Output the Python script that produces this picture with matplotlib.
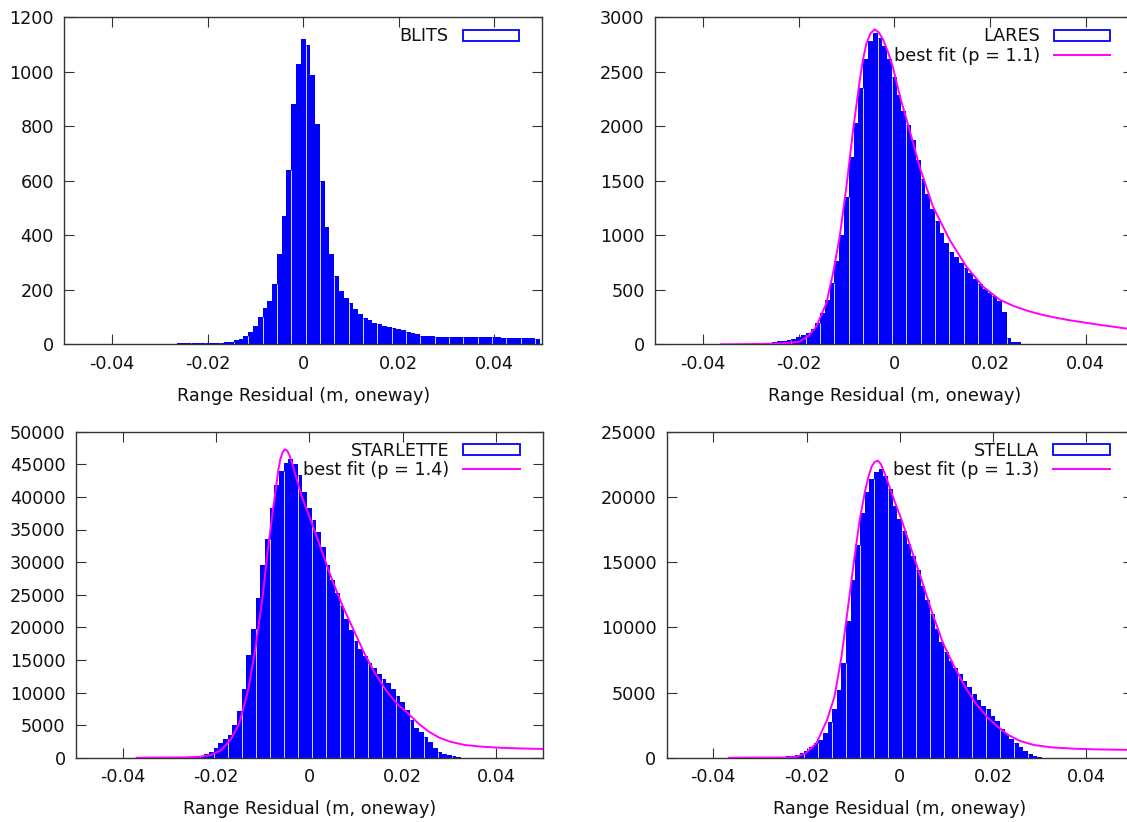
import numpy as np
import matplotlib
matplotlib.use("Agg")
import matplotlib.pyplot as plt
from matplotlib.patches import Patch
from matplotlib.lines import Line2D

plt.rcParams['font.family'] = ['DejaVu Sans']

BIN_WIDTH = 0.001

# ---------------- data ----------------
blits_start = -0.026
blits_counts = [3, 4, 4, 4, 4, 5, 5, 5, 5, 6,
                7, 10, 14, 20, 30, 45, 68, 100, 135, 158,
                220, 330, 470, 640, 880, 1030, 1120, 1100, 990, 810,
                600, 430, 330, 250, 195, 170, 150, 128, 110, 97,
                88, 80, 74, 68, 64, 60, 57, 52, 45, 40,
                36, 32, 30, 29, 28, 28, 28, 27, 27, 27,
                27, 26, 26, 26, 25, 25, 25, 25, 24, 24,
                24, 24, 24, 23, 22, 18]

lares_start = -0.036
lares_counts = [2, 2, 3, 3, 4, 5, 6, 8, 10, 12,
                16, 20, 26, 33, 42, 52, 65, 82, 105, 140,
                200, 290, 410, 560, 760, 1000, 1350, 1720, 2030, 2350,
                2620, 2780, 2860, 2810, 2740, 2620, 2450, 2290, 2140, 2010,
                1870, 1690, 1520, 1380, 1240, 1130, 1020, 930, 850, 800,
                750, 700, 650, 600, 550, 510, 470, 440, 400, 300,
                60, 20, 18]
lares_fit_x = [-0.0362, -0.030, -0.025, -0.022, -0.0198, -0.018, -0.0163, -0.0142,
               -0.0128, -0.0114, -0.0100, -0.0086, -0.0072, -0.0065, -0.0058, -0.0050,
               -0.0041, -0.0032, -0.0023, -0.0013, -0.0003, 0.0012, 0.0032, 0.0053,
               0.0081, 0.0116, 0.0151, 0.0186, 0.022, 0.025, 0.028, 0.031, 0.034,
               0.037, 0.040, 0.043, 0.046, 0.049, 0.0505]
lares_fit_y = [0, 2, 6, 14, 24, 75, 161, 376, 651, 987, 1446, 1966, 2425, 2620, 2761, 2850,
               2890, 2860, 2792, 2680, 2547, 2272, 1966, 1629, 1262, 957, 712, 528, 410, 350,
               305, 270, 242, 218, 198, 178, 160, 142, 135]

starlette_start = -0.035
starlette_counts = [10, 15, 20, 25, 30, 40, 50, 70, 90, 120,
                    160, 220, 330, 500, 900, 1500, 2300, 2800, 3500, 5000,
                    7200, 10500, 15800, 19800, 24500, 29500, 33500, 38300, 41800, 43900,
                    45200, 45800, 45000, 43300, 40700, 38300, 36500, 34600, 32300, 29600,
                    27300, 25300, 23300, 21300, 19600, 17900, 16600, 15600, 14600, 13700,
                    12900, 12100, 11400, 10500, 9500, 8600, 7300, 5800, 4600, 4000,
                    3200, 2400, 1500, 900, 600, 450, 300, 150]
starlette_fit_x = [-0.037, -0.0265, -0.0234, -0.0211, -0.0189, -0.0169, -0.015, -0.0131,
                   -0.0116, -0.010, -0.0089, -0.0077, -0.0066, -0.0062, -0.0057, -0.0052,
                   -0.0047, -0.0042, -0.0036, -0.0031, -0.0016, 0.0003, 0.0026, 0.0049,
                   0.0072, 0.0095, 0.0118, 0.0141, 0.0164, 0.0187, 0.021, 0.0233, 0.0256,
                   0.0279, 0.0302, 0.0333, 0.0371, 0.0409, 0.0448, 0.0505]
starlette_fit_y = [0, 50, 150, 410, 1180, 2710, 5270, 10380, 16510, 24690, 31850, 38500,
                   44300, 45800, 46900, 47300, 47050, 46300, 45000, 43700, 40030, 36450,
                   31850, 27250, 23160, 19580, 16000, 12930, 10380, 8330, 6900, 5300, 4000,
                   3050, 2450, 1950, 1680, 1530, 1430, 1330]

stella_start = -0.035
stella_counts = [5, 7, 9, 12, 15, 20, 25, 35, 45, 60,
                 80, 110, 150, 220, 330, 550, 850, 1100, 1350, 1900,
                 2700, 3700, 5200, 7300, 10500, 13600, 16300, 18800, 20400, 21400,
                 21900, 22150, 21600, 20600, 19300, 18300, 17400, 16400, 15500, 14400,
                 13200, 12100, 11000, 9900, 8900, 8100, 7400, 6900, 6400, 5900,
                 5400, 4900, 4400, 4000, 3700, 3200, 2800, 2200, 1800, 1450,
                 1150, 800, 500, 250, 150, 80]
stella_fit_x = [-0.0366, -0.0265, -0.0226, -0.0202, -0.0179, -0.0156, -0.014, -0.0125,
                -0.0109, -0.0097, -0.0086, -0.0074, -0.0066, -0.006, -0.0054, -0.0047,
                -0.0041, -0.0035, -0.0027, -0.0012, 0.0004, 0.0023, 0.0047, 0.007, 0.0093,
                0.0117, 0.014, 0.0163, 0.0187, 0.021, 0.0233, 0.0257, 0.0288, 0.0327,
                0.0374, 0.042, 0.0505]
stella_fit_y = [0, 10, 25, 330, 1100, 2890, 4680, 7750, 12090, 15410, 18230, 20530,
                21700, 22350, 22680, 22780, 22550, 22050, 21290, 19760, 18230, 16180,
                13620, 11070, 8770, 6980, 5440, 4170, 3140, 2380, 1740, 1300, 970, 790,
                690, 640, 590]

x_ticks = [-0.04, -0.02, 0.0, 0.02, 0.04]
x_tick_labels = ["-0.04", "-0.02", "0", "0.02", "0.04"]
x_label = "Range Residual (m, oneway)"

# ---------------- figure ----------------
W, H = 1127, 822
fig = plt.figure(figsize=(W / 100, H / 100), dpi=100)

BLUE = '#0000ff'
SEAM = '#d8d8ff'
MAGENTA = '#ff00ff'
TXT = '#111111'
FS = 12.7


def axes_px(l, r, t, b):
    return fig.add_axes([l / W, 1 - b / H, (r - l) / W, (b - t) / H])


def panel(rect, start, counts, ymax, ystep, name, fit=None, p=None):
    ax = axes_px(*rect)
    counts = np.asarray(counts, dtype=float)
    centers = start + BIN_WIDTH * np.arange(len(counts))
    ax.bar(centers, counts, width=BIN_WIDTH, color=BLUE, edgecolor='none',
           linewidth=0, align='center', zorder=2)
    # faint light seams between some boxes, as in the gnuplot rendering
    idx = np.arange(1, len(counts))
    idx = idx[idx % 3 == 0]
    seam_x = centers[idx] - BIN_WIDTH / 2
    seam_top = np.minimum(counts[idx - 1], counts[idx])
    ax.vlines(seam_x, 0, seam_top, colors=SEAM, linewidth=0.7, zorder=2.5)
    handles = [Patch(facecolor='white', edgecolor=BLUE, linewidth=1.3, label=name)]
    if fit is not None:
        ax.plot(fit[0], fit[1], color=MAGENTA, lw=1.4, zorder=3, clip_on=True,
                solid_joinstyle='round')
        handles.append(Line2D([], [], color=MAGENTA, lw=1.4,
                              label=f"best fit (p = {p})"))
    ax.set_xlim(-0.05, 0.05)
    ax.set_ylim(0, ymax)
    ax.set_xticks(x_ticks)
    ax.set_xticklabels(x_tick_labels)
    ax.set_yticks(np.arange(0, ymax + 1, ystep))
    ax.tick_params(direction='in', length=7.2, width=0.8, color='#333333',
                   top=True, right=True, labelsize=FS, labelcolor=TXT, pad=7.5)
    for s in ax.spines.values():
        s.set_linewidth(1.0)
        s.set_color('#333333')
    ax.set_xlabel(x_label, fontsize=FS, color=TXT, labelpad=10)
    axw = rect[1] - rect[0]
    axh = rect[3] - rect[2]
    leg = ax.legend(handles=handles, loc='upper right', frameon=False,
                    markerfirst=False, fontsize=FS, handlelength=3.2,
                    handleheight=0.58, handletextpad=0.8, labelspacing=0.08,
                    borderpad=0, borderaxespad=0,
                    bbox_to_anchor=(1 - 23 / axw, 1 - 10 / axh))
    for t in leg.get_texts():
        t.set_color(TXT)
    return ax


panel((64.3, 542.0, 17.3, 344.3), blits_start, blits_counts, 1200, 200, "BLITS")
panel((655.0, 1133.5, 17.3, 344.3), lares_start, lares_counts, 3000, 500, "LARES",
      (lares_fit_x, lares_fit_y), "1.1")
panel((76.0, 542.6, 431.7, 757.7), starlette_start, starlette_counts, 50000, 5000,
      "STARLETTE", (starlette_fit_x, starlette_fit_y), "1.4")
panel((666.7, 1132.8, 431.7, 757.7), stella_start, stella_counts, 25000, 5000,
      "STELLA", (stella_fit_x, stella_fit_y), "1.3")

fig.savefig("out.png", dpi=100)
